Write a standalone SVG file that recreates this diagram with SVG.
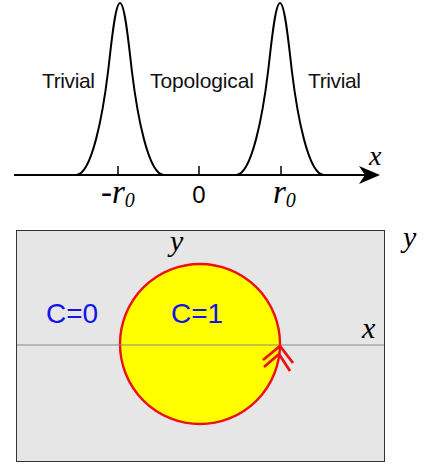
<svg xmlns="http://www.w3.org/2000/svg" width="426" height="466" viewBox="0 0 426 466">
<style>
.sans{font-family:"Liberation Sans",Arial,sans-serif}
.it{font-family:"Liberation Serif","Times New Roman",serif;font-style:italic}
.curve{fill:none;stroke:#000;stroke-width:2;stroke-linejoin:round}
.lbl{font-size:21px;fill:#111}
.c{font-size:28px;fill:#1414e6}
.chev{fill:none;stroke:#ee1111;stroke-width:2.8;stroke-linecap:butt;stroke-linejoin:miter}
</style>
<rect width="426" height="466" fill="#fff"/>
<g id="top-plot">
  <line x1="14" y1="175" x2="366" y2="175" stroke="#000" stroke-width="2"/>
  <path d="M380,175 L359,166 L365,175 L359,184 Z" fill="#000"/>
  <g stroke="#000" stroke-width="1.5">
    <line x1="118" y1="166" x2="118" y2="175"/>
    <line x1="199" y1="166" x2="199" y2="175"/>
    <line x1="281" y1="166" x2="281" y2="175"/>
  </g>
  <path class="curve" d="M14,175 L76,175 C92,175 103,113 108,72 C111,47.25 115,3 120,3 C125,3 129,47.25 132,72 C137,113 148,175 164,175 L236,175 C252,175 263,113 268,72 C271,47.25 275,3 280,3 C285,3 289,47.25 292,72 C297,113 308,175 324,175 L362,175"/>
  <text class="sans lbl" x="42" y="88" textLength="53">Trivial</text>
  <text class="sans lbl" x="150" y="88" textLength="104">Topological</text>
  <text class="sans lbl" x="308" y="88" textLength="53">Trivial</text>
  <text class="it" x="369" y="165" font-size="28">x</text>
  <text class="it" x="101" y="203" font-size="33">-r<tspan font-size="20" dy="4">0</tspan></text>
  <text class="sans" x="199" y="203" font-size="24" text-anchor="middle">0</text>
  <text class="it" x="273" y="203" font-size="33">r<tspan font-size="20" dy="4">0</tspan></text>
</g>
<g id="bottom-plot">
  <rect x="16.5" y="230.5" width="368" height="231" fill="#e6e6e6" stroke="#333" stroke-width="1"/>
  <circle cx="200" cy="344" r="80" fill="#ffff00" stroke="#ee1111" stroke-width="2.4"/>
  <line x1="17" y1="345" x2="384" y2="345" stroke="#888" stroke-width="1"/>
  <path class="chev" d="M263,360 L280,346 L293,363"/>
  <path class="chev" d="M264,367 L279,354 L290,371"/>
  <text class="sans c" x="46" y="323">C=0</text>
  <text class="sans c" x="171" y="323">C=1</text>
  <text class="it" x="170" y="251" font-size="30">y</text>
  <text class="it" x="362" y="338" font-size="30">x</text>
  <text class="it" x="403" y="247" font-size="30">y</text>
</g>
</svg>
